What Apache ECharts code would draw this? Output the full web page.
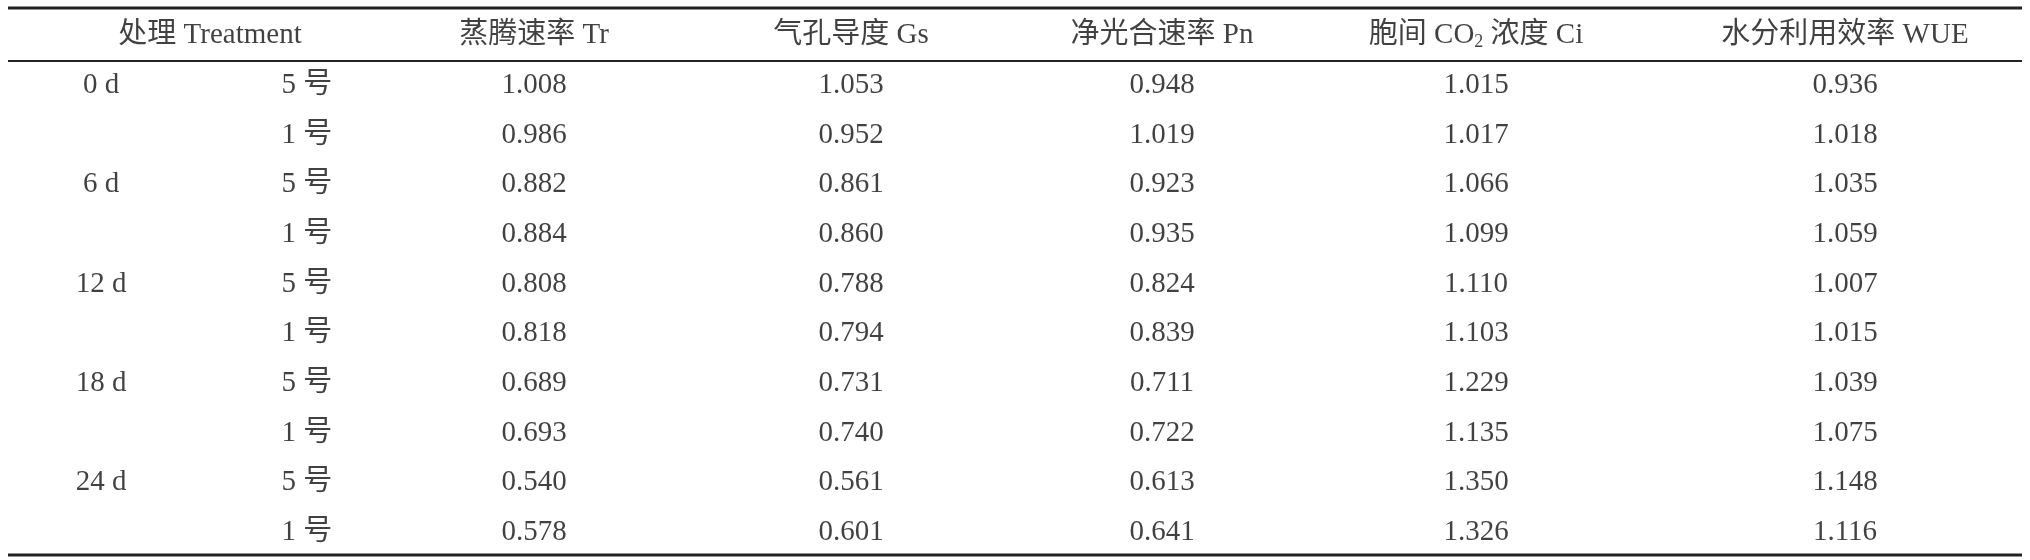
<!DOCTYPE html>
<html>
<head>
<meta charset="utf-8">
<script src="https://cdn.jsdelivr.net/npm/echarts@6/dist/echarts.min.js"></script>
<style>html,body{margin:0;padding:0;background:#fff}#main{width:2030px;height:560px}</style>
</head>
<body>
<div id="main"></div>
<script>
var chart = echarts.init(document.getElementById("main"));

var headers = ['处理 Treatment', '', '蒸腾速率 Tr', '气孔导度 Gs', '净光合速率 Pn', '胞间 CO{sub|2} 浓度 Ci', '水分利用效率 WUE'];
var days = ['0 d', '', '6 d', '', '12 d', '', '18 d', '', '24 d', ''];
var groups = ['5 号', '1 号', '5 号', '1 号', '5 号', '1 号', '5 号', '1 号', '5 号', '1 号'];
var trData = [1.008, 0.986, 0.882, 0.884, 0.808, 0.818, 0.689, 0.693, 0.540, 0.578];
var gsData = [1.053, 0.952, 0.861, 0.860, 0.788, 0.794, 0.731, 0.740, 0.561, 0.601];
var pnData = [0.948, 1.019, 0.923, 0.935, 0.824, 0.839, 0.711, 0.722, 0.613, 0.641];
var ciData = [1.015, 1.017, 1.066, 1.099, 1.110, 1.103, 1.229, 1.135, 1.350, 1.326];
var wueData = [0.936, 1.018, 1.035, 1.059, 1.007, 1.015, 1.039, 1.075, 1.148, 1.116];

// column centres (layout, px)
var colX = [101, 307, 534, 851, 1162, 1476, 1845];
var headerX = 210;
var rows = ['h', '1', '2', '3', '4', '5', '6', '7', '8', '9', '10'];

var font = '"Liberation Serif", "Noto Sans CJK SC", serif';
var cells = [];
headers.forEach(function (h, i) {
    if (h) cells.push({ value: [i === 0 ? headerX : colX[i], 0], text: h });
});
var cols = [days, groups, trData, gsData, pnData, ciData, wueData];
cols.forEach(function (col, c) {
    col.forEach(function (v, r) {
        var t = typeof v === 'number' ? v.toFixed(3) : v;
        if (t) cells.push({ value: [colX[c], r + 1], text: t });
    });
});

function hline(y, w) {
    return { type: 'line', shape: { x1: 8, y1: y, x2: 2022, y2: y }, style: { stroke: '#222', lineWidth: w } };
}

chart.setOption({
    animation: false,
    grid: { left: 0, right: 0, top: 11, bottom: 3 },
    xAxis: { type: 'value', min: 0, max: 2030, show: false },
    yAxis: { type: 'category', data: rows, inverse: true, show: false },
    graphic: [hline(8, 3), hline(61, 2), hline(555, 3)],
    series: [{
        type: 'scatter',
        symbolSize: 0,
        data: cells,
        label: {
            show: true,
            position: 'inside',
            color: '#111',
            fontFamily: font,
            fontSize: 29,
            formatter: function (p) { return p.data.text; },
            rich: { sub: { fontSize: 18, fontFamily: font, color: '#111', padding: [12, 0, 0, 0] } }
        }
    }]
});
</script>
</body>
</html>
